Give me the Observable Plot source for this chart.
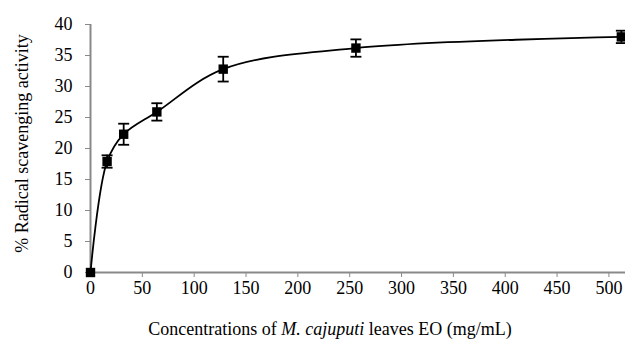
<!DOCTYPE html>
<html>
<head>
<meta charset="utf-8">
<script src="https://cdn.jsdelivr.net/npm/d3@7"></script>
<script src="https://cdn.jsdelivr.net/npm/@observablehq/plot@0.6"></script>
<style>
  @font-face { font-family: "ChartSerif"; src: local("Liberation Serif"), local("LiberationSerif"), local("Times New Roman"); font-style: normal; font-weight: 400; }
  html, body { margin: 0; padding: 0; background: #fff; }
  svg text, svg g { font-family: "ChartSerif", "Liberation Serif", "Times New Roman", serif !important; }
</style>
</head>
<body>
<div id="chart"></div>
<div id="xlabel" style="width:625px;font-family:'Liberation Serif',serif;font-size:18px;line-height:25px;color:#000;text-align:center;padding-left:35px;box-sizing:border-box;padding-top:3px;white-space:nowrap;">Concentrations of <i>M. cajuputi</i> leaves EO (mg/mL)</div>
<script>
// Data
const concentrations = [0, 16, 32, 64, 128, 256, 512];          // mg/mL
const scavenging = [0, 17.9, 22.3, 25.9, 32.8, 36.2, 38.0];     // % radical scavenging activity
const errors = [0, 1.0, 1.7, 1.4, 2.0, 1.4, 1.0];               // error bar half-length
const xTicks = [0, 50, 100, 150, 200, 250, 300, 350, 400, 450, 500];
const yTicks = [0, 5, 10, 15, 20, 25, 30, 35, 40];
const yLabel = "% Radical scavenging activity";

const data = concentrations.map((c, i) => ({c, v: scavenging[i], e: errors[i]}));
const withErr = data.filter(d => d.e > 0);
const capHalf = 5.3; // half width of error-bar caps, in x units

const axisGrey = "#898989";
const serif = "Liberation Serif";

const plot = Plot.plot({
  width: 625,
  height: 314,
  marginLeft: 90,
  marginRight: 0,
  marginTop: 24,
  marginBottom: 42,
  x: {domain: [0, 516], label: null},
  y: {domain: [0, 40], label: null},
  marks: [
    Plot.axisX({ticks: xTicks, tickSize: 5, tickPadding: 4, stroke: axisGrey, label: null, fontSize: 18, fontFamily: serif, tickFormat: d => String(d)}),
    Plot.axisY({ticks: yTicks, tickSize: 5, tickPadding: 13, stroke: axisGrey, label: null, fontSize: 18, fontFamily: serif, tickFormat: d => String(d)}),
    Plot.ruleY([0], {stroke: axisGrey, strokeWidth: 2}),
    Plot.ruleX([0], {stroke: axisGrey, strokeWidth: 2}),
    Plot.line(data, {x: "c", y: "v", curve: "catmull-rom", stroke: "black", strokeWidth: 1.8}),
    Plot.ruleX(withErr, {x: "c", y1: d => d.v - d.e, y2: d => d.v + d.e, stroke: "black", strokeWidth: 1.8}),
    Plot.link(withErr, {x1: d => d.c - capHalf, x2: d => d.c + capHalf, y1: d => d.v + d.e, y2: d => d.v + d.e, stroke: "black", strokeWidth: 1.8}),
    Plot.link(withErr, {x1: d => d.c - capHalf, x2: d => d.c + capHalf, y1: d => d.v - d.e, y2: d => d.v - d.e, stroke: "black", strokeWidth: 1.8}),
    Plot.dot(data, {x: "c", y: "v", symbol: "square", r: 5.3, fill: "black"}),
    Plot.text([yLabel], {frameAnchor: "left", textAnchor: "middle", rotate: -90, dx: -68, dy: -5, fontSize: 18, fontFamily: serif})
  ]
});

document.getElementById("chart").appendChild(plot);
plot.querySelectorAll("text").forEach(t => {
  t.setAttribute("font-family", "Liberation Serif");
  t.style.setProperty("font-family", "'Liberation Serif', 'Times New Roman', serif", "important");
  t.style.setProperty("font-size", "18px", "important");
});
</script>
</body>
</html>
